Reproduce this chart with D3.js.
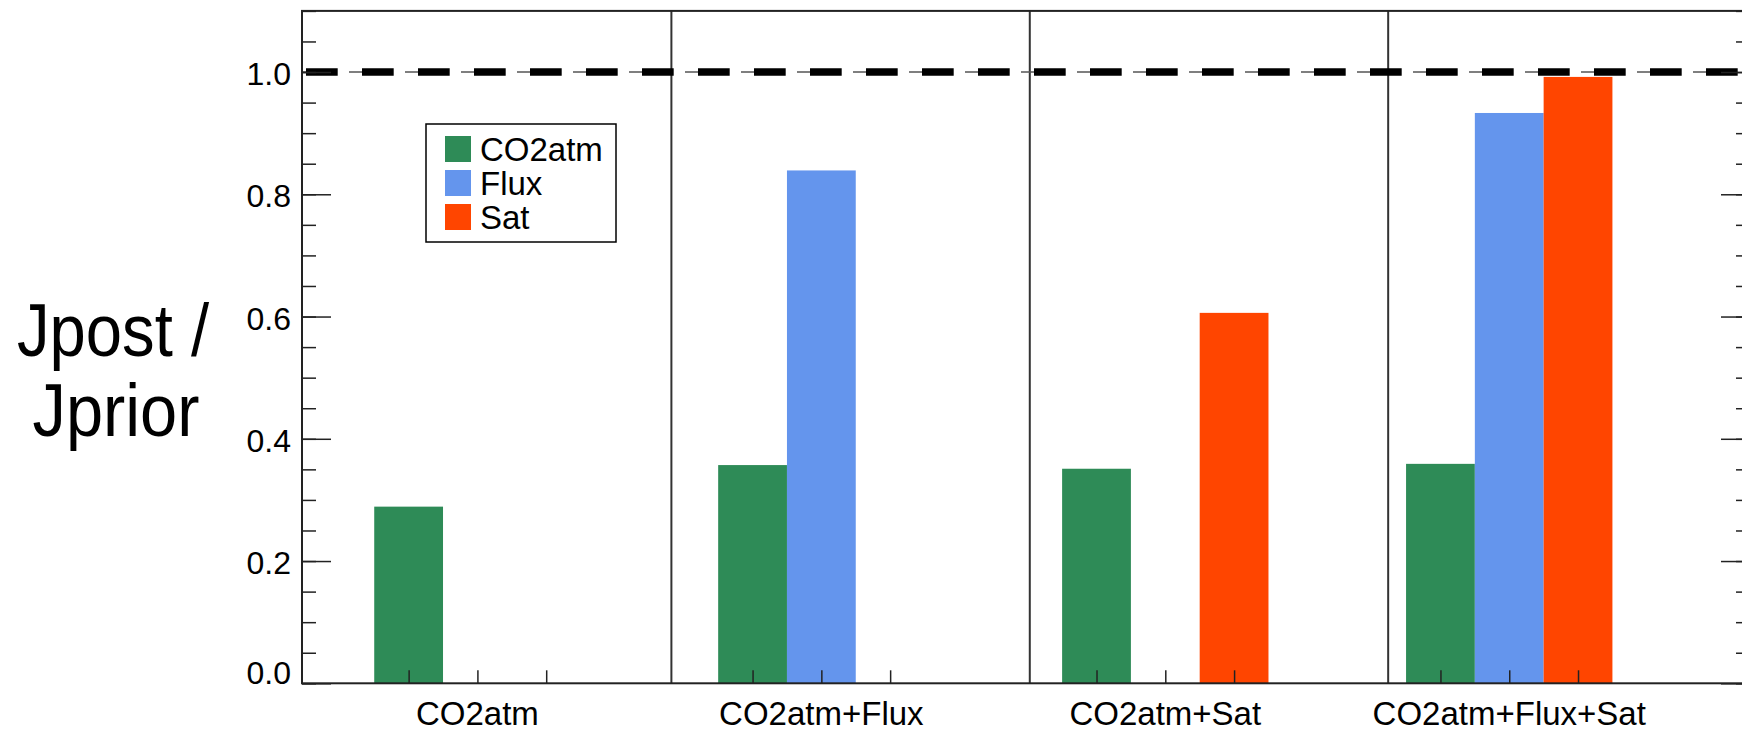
<!DOCTYPE html>
<head>
  <meta charset="utf-8">
  <style>
    body { margin: 0; background: #fff; }
    svg { display: block; font-family: "Liberation Sans", Arial, sans-serif; }
    .axis path, .axis line { fill: none; stroke: #222; stroke-width: 1.5px; }
    .axis text { font-size: 32px; fill: #000; }
    .divider { stroke: #333; stroke-width: 2px; }
  </style>
  <script src="https://d3js.org/d3.v7.min.js"></script>
</head>
<body>
<script>
  // experiments on the x axis, series in the legend
  var categories = ["CO2atm", "CO2atm+Flux", "CO2atm+Sat", "CO2atm+Flux+Sat"];
  var seriesNames = ["CO2atm", "Flux", "Sat"];
  var seriesColors = ["#2e8b57", "#6495ed", "#ff4500"];
  // Jpost / Jprior per experiment (null = not in that experiment)
  var co2atmValues = [0.289, 0.357, 0.351, 0.359];
  var fluxValues = [null, 0.839, null, 0.933];
  var satValues = [null, null, 0.606, 0.992];
  var yMajorTicks = [0, 0.2, 0.4, 0.6, 0.8, 1.0];
  var yMinorTicks = d3.range(0, 1.1001, 0.05);
  var dividerPos = [3.82, 9.03, 14.24];
  var refValue = 1.0;

  var W = 1742, H = 731;
  var plot = { left: 302, right: 1750, top: 10.9, bottom: 683.3 };

  var svg = d3.select("body").append("svg")
    .attr("width", W)
    .attr("height", H);

  // each experiment takes 5 slots, one slot per series
  var slot = function(g, s) { return 5 * g + s; };
  var x = d3.scaleLinear().domain([-1.55, 19.5]).range([plot.left, plot.right]);
  var y = d3.scaleLinear().domain([0, 1.1]).range([plot.bottom, plot.top]);
  var bw = x(1) - x(0);

  var allSeries = [co2atmValues, fluxValues, satValues];
  var bars = [];
  allSeries.forEach(function(vals, s) {
    vals.forEach(function(v, g) {
      if (v !== null) bars.push({ g: g, s: s, v: v });
    });
  });

  svg.append("g").selectAll("rect")
    .data(bars)
    .enter().append("rect")
    .attr("x", function(d) { return x(slot(d.g, d.s)) - bw / 2; })
    .attr("width", bw)
    .attr("y", function(d) { return y(d.v); })
    .attr("height", function(d) { return y(0) - y(d.v); })
    .attr("fill", function(d) { return seriesColors[d.s]; });

  // panel dividers
  svg.append("g").selectAll("line")
    .data(dividerPos)
    .enter().append("line")
    .attr("class", "divider")
    .attr("x1", function(d) { return x(d); })
    .attr("x2", function(d) { return x(d); })
    .attr("y1", plot.top)
    .attr("y2", plot.bottom);

  // reference line at 1.0 : thin line under thick dashes
  var refY = y(refValue);
  svg.append("line")
    .attr("x1", plot.left).attr("x2", plot.right)
    .attr("y1", refY).attr("y2", refY)
    .attr("stroke", "#555")
    .attr("stroke-width", 1.5)
    .attr("stroke-dasharray", "14,42")
    .attr("stroke-dashoffset", 9);
  svg.append("line")
    .attr("x1", plot.left + 4).attr("x2", plot.right)
    .attr("y1", refY).attr("y2", refY)
    .attr("stroke", "#000")
    .attr("stroke-width", 7.5)
    .attr("stroke-dasharray", "31.7,24.3");

  // y axes
  var yAxis = d3.axisLeft(y).tickValues(yMajorTicks)
    .tickSize(-29).tickPadding(11)
    .tickFormat(d3.format(".1f"));
  var gy = svg.append("g")
    .attr("class", "axis")
    .attr("transform", "translate(" + plot.left + ",0)")
    .call(yAxis);
  gy.select(".domain").remove();
  gy.selectAll("text").attr("dy", "0.39em");
  // lowest label sits on the axis line
  gy.selectAll(".tick").filter(function(d) { return d === 0; })
    .select("text").attr("dy", "0.02em");

  svg.append("g")
    .attr("class", "axis")
    .attr("transform", "translate(" + plot.left + ",0)")
    .call(d3.axisLeft(y).tickValues(yMinorTicks).tickSize(-14).tickFormat(""))
    .select(".domain").remove();

  var gyr = svg.append("g")
    .attr("class", "axis")
    .attr("transform", "translate(" + plot.right + ",0)")
    .call(d3.axisRight(y).tickValues(yMajorTicks).tickSize(-29).tickFormat(""));
  gyr.select(".domain").remove();
  svg.append("g")
    .attr("class", "axis")
    .attr("transform", "translate(" + plot.right + ",0)")
    .call(d3.axisRight(y).tickValues(yMinorTicks).tickSize(-14).tickFormat(""))
    .select(".domain").remove();

  // x axis : ticks at every slot, labels under the middle slot
  var slotTicks = [];
  categories.forEach(function(c, g) {
    for (var s = 0; s < 3; s++) slotTicks.push(slot(g, s));
  });
  var gx = svg.append("g")
    .attr("class", "axis")
    .attr("transform", "translate(0," + plot.bottom + ")")
    .call(d3.axisBottom(x).tickValues(slotTicks).tickSize(-13).tickFormat(""));
  gx.select(".domain").remove();

  svg.append("g").selectAll("text")
    .data(categories)
    .enter().append("text")
    .attr("x", function(d, g) { return x(slot(g, 1)); })
    .attr("y", 725)
    .attr("text-anchor", "middle")
    .attr("font-size", 33)
    .text(function(d) { return d; });

  // frame
  svg.append("rect")
    .attr("x", plot.left).attr("y", plot.top)
    .attr("width", plot.right - plot.left)
    .attr("height", plot.bottom - plot.top)
    .attr("fill", "none")
    .attr("stroke", "#222")
    .attr("stroke-width", 2);

  // y title (the original face is narrower than Liberation Sans)
  svg.append("text")
    .attr("x", 113).attr("y", 356)
    .attr("text-anchor", "middle")
    .attr("font-size", 74)
    .attr("textLength", 192)
    .attr("lengthAdjust", "spacingAndGlyphs")
    .text("Jpost /");
  svg.append("text")
    .attr("x", 116).attr("y", 436)
    .attr("text-anchor", "middle")
    .attr("font-size", 74)
    .attr("textLength", 167)
    .attr("lengthAdjust", "spacingAndGlyphs")
    .text("Jprior");

  // legend
  var legend = svg.append("g").attr("transform", "translate(426,124)");
  legend.append("rect")
    .attr("width", 190).attr("height", 118)
    .attr("fill", "#fff")
    .attr("stroke", "#000")
    .attr("stroke-width", 1.5);
  var items = legend.selectAll("g.item")
    .data(seriesNames)
    .enter().append("g")
    .attr("class", "item")
    .attr("transform", function(d, i) { return "translate(19," + (12 + i * 34) + ")"; });
  items.append("rect")
    .attr("width", 26).attr("height", 26)
    .attr("fill", function(d, i) { return seriesColors[i]; });
  items.append("text")
    .attr("x", 35).attr("y", 25)
    .attr("font-size", 33)
    .text(function(d) { return d; });
</script>
</body>
</html>
